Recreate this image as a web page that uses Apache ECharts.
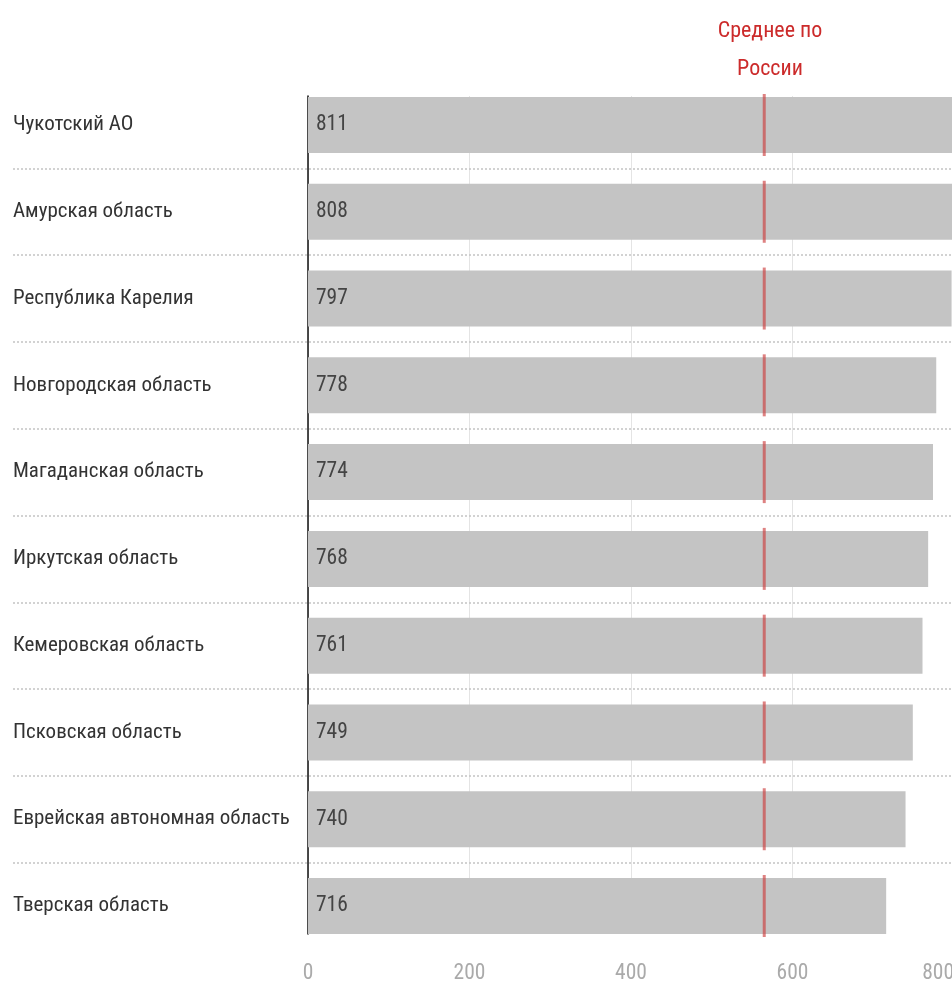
<!DOCTYPE html>
<html>
<head>
<meta charset="utf-8">
<script src="https://cdn.jsdelivr.net/npm/echarts@6/dist/echarts.min.js"></script>
<style>
html,body{margin:0;padding:0;background:#fff;}
#chart{width:952px;height:983px;}
</style>
</head>
<body>
<div id="chart"></div>
<script>
const categories = ['Чукотский АО','Амурская область','Республика Карелия','Новгородская область','Магаданская область','Иркутская область','Кемеровская область','Псковская область','Еврейская автономная область','Тверская область'];
const values = [811, 808, 797, 778, 774, 768, 761, 749, 740, 716];
const russiaAverage = 565;
const xTicks = [0, 200, 400, 600, 800];
const rowBoundaries = [1, 2, 3, 4, 5, 6, 7, 8, 9];
const avgLabel = 'Среднее по\nРоссии';

const FONT = "'Roboto Condensed', 'Liberation Sans Narrow', 'DejaVu Sans Condensed', 'Roboto', sans-serif";

const chart = echarts.init(document.getElementById('chart'), null, {renderer: 'canvas'});

const xMin = xTicks[0], xMax = xTicks[xTicks.length - 1], xInt = xTicks[1] - xTicks[0];

chart.setOption({
  animation: false,
  backgroundColor: '#fff',
  textStyle: {fontFamily: FONT},
  title: {
    text: avgLabel,
    left: 765, top: 7, textAlign: 'center',
    textStyle: {fontFamily: FONT, fontSize: 22, lineHeight: 38, color: '#cc2b2b', fontWeight: 'normal'}
  },
  grid: [
    {left: 13, right: 0, top: 81.6, bottom: 33.6, outerBoundsMode: 'none', containLabel: false},
    {left: 308, right: -2, top: 96, bottom: 49, outerBoundsMode: 'none', containLabel: false},
    {left: 308, right: -2, top: 81.6, bottom: 33.6, outerBoundsMode: 'none', containLabel: false}
  ],
  xAxis: [
    {gridIndex: 0, type: 'value', min: 0, max: 1, show: false},
    {gridIndex: 1, type: 'value', min: xMin, max: xMax, interval: xInt,
      axisLine: {show: false}, axisTick: {show: false}, axisLabel: {show: false},
      splitLine: {show: true, lineStyle: {color: '#e4e4e4', width: 1}}},
    {gridIndex: 2, type: 'value', min: xMin, max: xMax, interval: xInt,
      axisLine: {show: false}, axisTick: {show: false}, splitLine: {show: false},
      axisLabel: {color: '#aaaaaa', fontSize: 21.5, fontFamily: FONT, margin: 13, showMaxLabel: true, hideOverlap: false, alignMaxLabel: 'right'}}
  ],
  yAxis: [
    {gridIndex: 0, type: 'value', min: 0, max: 10, inverse: true, show: false},
    {gridIndex: 1, type: 'value', min: 0, max: 1, position: 'left',
      axisLine: {show: true, lineStyle: {color: '#111', width: 1.5}},
      axisTick: {show: false}, axisLabel: {show: false}, splitLine: {show: false}},
    {gridIndex: 2, type: 'category', data: categories, inverse: true,
      axisLine: {show: false}, axisTick: {show: false}, splitLine: {show: false},
      axisLabel: {align: 'left', margin: 295, color: '#333', fontSize: 21, fontFamily: FONT}}
  ],
  series: [
    {
      type: 'scatter', xAxisIndex: 0, yAxisIndex: 0, data: [], silent: true,
      markLine: {
        silent: true, symbol: ['none', 'none'], label: {show: false},
        lineStyle: {color: '#c4c4c4', type: [2, 2], width: 1.5},
        data: rowBoundaries.map(v => ({yAxis: v}))
      }
    },
    {
      type: 'bar', xAxisIndex: 2, yAxisIndex: 2, data: values, barWidth: 56, clip: false,
      itemStyle: {color: '#c4c4c4'},
      label: {show: true, position: 'insideLeft', distance: 8, color: '#444', fontSize: 21.5, fontFamily: FONT},
      z: 2
    },
    {
      type: 'scatter', xAxisIndex: 2, yAxisIndex: 2, silent: true,
      data: categories.map(c => [russiaAverage, c]),
      symbol: 'rect', symbolSize: [3, 62],
      itemStyle: {color: 'rgba(204,60,60,0.8)'},
      z: 5
    }
  ]
});
</script>
</body>
</html>
